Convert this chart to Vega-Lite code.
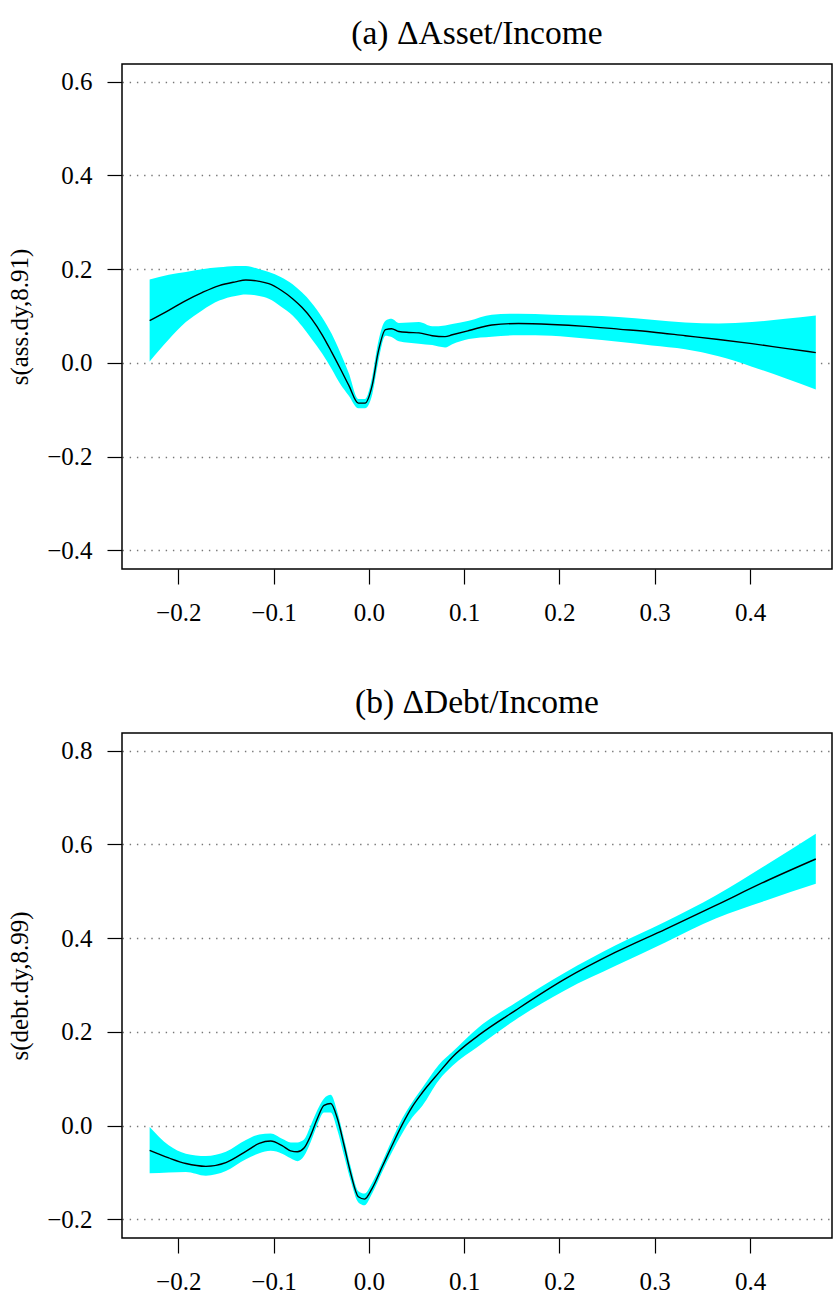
{
  "$schema": "https://vega.github.io/schema/vega-lite/v6.json",
  "background": "white",
  "padding": {"left": 6, "top": 15, "right": 0, "bottom": 0},
  "spacing": 58,
  "datasets": {
    "a": [
      {"x": -0.230, "fit": 0.090, "lo": 0.003, "hi": 0.178},
      {"x": -0.210, "fit": 0.112, "lo": 0.050, "hi": 0.188},
      {"x": -0.192, "fit": 0.133, "lo": 0.087, "hi": 0.194},
      {"x": -0.175, "fit": 0.150, "lo": 0.112, "hi": 0.200},
      {"x": -0.157, "fit": 0.165, "lo": 0.133, "hi": 0.204},
      {"x": -0.140, "fit": 0.173, "lo": 0.143, "hi": 0.207},
      {"x": -0.129, "fit": 0.177, "lo": 0.146, "hi": 0.207},
      {"x": -0.115, "fit": 0.174, "lo": 0.143, "hi": 0.200},
      {"x": -0.105, "fit": 0.169, "lo": 0.137, "hi": 0.194},
      {"x": -0.092, "fit": 0.155, "lo": 0.120, "hi": 0.183},
      {"x": -0.080, "fit": 0.137, "lo": 0.101, "hi": 0.168},
      {"x": -0.070, "fit": 0.118, "lo": 0.078, "hi": 0.150},
      {"x": -0.060, "fit": 0.094, "lo": 0.051, "hi": 0.128},
      {"x": -0.049, "fit": 0.060, "lo": 0.020, "hi": 0.097},
      {"x": -0.039, "fit": 0.023, "lo": -0.013, "hi": 0.062},
      {"x": -0.030, "fit": -0.012, "lo": -0.045, "hi": 0.022},
      {"x": -0.021, "fit": -0.048, "lo": -0.070, "hi": -0.022},
      {"x": -0.011, "fit": -0.086, "lo": -0.097, "hi": -0.077},
      {"x": -0.004, "fit": -0.086, "lo": -0.097, "hi": -0.077},
      {"x": 0.0035, "fit": -0.048, "lo": -0.068, "hi": -0.030},
      {"x": 0.0098, "fit": 0.023, "lo": 0.001, "hi": 0.044},
      {"x": 0.0175, "fit": 0.071, "lo": 0.058, "hi": 0.090},
      {"x": 0.0238, "fit": 0.073, "lo": 0.055, "hi": 0.094},
      {"x": 0.0315, "fit": 0.067, "lo": 0.046, "hi": 0.085},
      {"x": 0.042, "fit": 0.065, "lo": 0.043, "hi": 0.086},
      {"x": 0.0525, "fit": 0.064, "lo": 0.041, "hi": 0.087},
      {"x": 0.0665, "fit": 0.058, "lo": 0.038, "hi": 0.078},
      {"x": 0.080, "fit": 0.056, "lo": 0.033, "hi": 0.080},
      {"x": 0.0875, "fit": 0.060, "lo": 0.040, "hi": 0.083},
      {"x": 0.105, "fit": 0.069, "lo": 0.051, "hi": 0.090},
      {"x": 0.129, "fit": 0.081, "lo": 0.056, "hi": 0.103},
      {"x": 0.157, "fit": 0.084, "lo": 0.059, "hi": 0.105},
      {"x": 0.192, "fit": 0.082, "lo": 0.058, "hi": 0.103},
      {"x": 0.227, "fit": 0.078, "lo": 0.052, "hi": 0.101},
      {"x": 0.262, "fit": 0.072, "lo": 0.045, "hi": 0.098},
      {"x": 0.297, "fit": 0.066, "lo": 0.037, "hi": 0.092},
      {"x": 0.332, "fit": 0.058, "lo": 0.029, "hi": 0.086},
      {"x": 0.367, "fit": 0.050, "lo": 0.014, "hi": 0.084},
      {"x": 0.402, "fit": 0.041, "lo": -0.008, "hi": 0.087},
      {"x": 0.437, "fit": 0.031, "lo": -0.033, "hi": 0.094},
      {"x": 0.469, "fit": 0.022, "lo": -0.057, "hi": 0.101}
    ],
    "b": [
      {"x": -0.230, "fit": -0.053, "lo": -0.102, "hi": -0.003},
      {"x": -0.210, "fit": -0.069, "lo": -0.100, "hi": -0.042},
      {"x": -0.192, "fit": -0.081, "lo": -0.099, "hi": -0.060},
      {"x": -0.171, "fit": -0.087, "lo": -0.107, "hi": -0.065},
      {"x": -0.150, "fit": -0.079, "lo": -0.097, "hi": -0.056},
      {"x": -0.129, "fit": -0.055, "lo": -0.072, "hi": -0.031},
      {"x": -0.115, "fit": -0.038, "lo": -0.059, "hi": -0.019},
      {"x": -0.103, "fit": -0.033, "lo": -0.054, "hi": -0.017},
      {"x": -0.091, "fit": -0.043, "lo": -0.060, "hi": -0.028},
      {"x": -0.082, "fit": -0.054, "lo": -0.070, "hi": -0.036},
      {"x": -0.075, "fit": -0.056, "lo": -0.076, "hi": -0.036},
      {"x": -0.068, "fit": -0.048, "lo": -0.065, "hi": -0.030},
      {"x": -0.061, "fit": -0.021, "lo": -0.035, "hi": 0.000},
      {"x": -0.054, "fit": 0.015, "lo": 0.002, "hi": 0.033},
      {"x": -0.047, "fit": 0.043, "lo": 0.028, "hi": 0.058},
      {"x": -0.040, "fit": 0.047, "lo": 0.028, "hi": 0.066},
      {"x": -0.033, "fit": 0.015, "lo": -0.010, "hi": 0.029},
      {"x": -0.026, "fit": -0.042, "lo": -0.064, "hi": -0.028},
      {"x": -0.019, "fit": -0.102, "lo": -0.118, "hi": -0.088},
      {"x": -0.011, "fit": -0.152, "lo": -0.164, "hi": -0.140},
      {"x": -0.0045, "fit": -0.157, "lo": -0.170, "hi": -0.145},
      {"x": 0.0035, "fit": -0.134, "lo": -0.145, "hi": -0.122},
      {"x": 0.014, "fit": -0.088, "lo": -0.099, "hi": -0.078},
      {"x": 0.0245, "fit": -0.042, "lo": -0.056, "hi": -0.030},
      {"x": 0.035, "fit": 0.002, "lo": -0.017, "hi": 0.015},
      {"x": 0.0455, "fit": 0.040, "lo": 0.017, "hi": 0.050},
      {"x": 0.056, "fit": 0.070, "lo": 0.042, "hi": 0.080},
      {"x": 0.0735, "fit": 0.113, "lo": 0.097, "hi": 0.130},
      {"x": 0.0875, "fit": 0.146, "lo": 0.127, "hi": 0.157},
      {"x": 0.1154, "fit": 0.193, "lo": 0.170, "hi": 0.210},
      {"x": 0.154, "fit": 0.246, "lo": 0.226, "hi": 0.262},
      {"x": 0.206, "fit": 0.313, "lo": 0.289, "hi": 0.327},
      {"x": 0.259, "fit": 0.370, "lo": 0.341, "hi": 0.385},
      {"x": 0.311, "fit": 0.419, "lo": 0.391, "hi": 0.435},
      {"x": 0.364, "fit": 0.470, "lo": 0.442, "hi": 0.491},
      {"x": 0.416, "fit": 0.521, "lo": 0.480, "hi": 0.555},
      {"x": 0.469, "fit": 0.569, "lo": 0.516, "hi": 0.623}
    ]
  },
  "vconcat": [
    {
      "title": {"text": "(a) ΔAsset/Income", "frame": "group", "offset": 13},
      "width": 710,
      "height": 505,
      "data": {"name": "a"},
      "layer": [
        {
          "mark": {"type": "area", "color": "#00FFFF", "opacity": 1, "interpolate": "monotone"},
          "encoding": {
            "x": {"field": "x", "type": "quantitative",
                  "scale": {"domain": [-0.259, 0.486], "nice": false, "zero": false},
                  "axis": {"values": [-0.2, -0.1, 0, 0.1, 0.2, 0.3, 0.4], "format": ".1f", "grid": false, "title": null}},
            "y": {"field": "lo", "type": "quantitative",
                  "scale": {"domain": [-0.44, 0.638], "nice": false, "zero": false},
                  "axis": {"values": [-0.4, -0.2, 0, 0.2, 0.4, 0.6], "format": ".1f", "title": "s(ass.dy,8.91)"}},
            "y2": {"field": "hi"}
          }
        },
        {
          "mark": {"type": "line", "color": "black", "strokeWidth": 1.4, "interpolate": "monotone"},
          "encoding": {
            "x": {"field": "x", "type": "quantitative"},
            "y": {"field": "fit", "type": "quantitative"}
          }
        }
      ]
    },
    {
      "title": {"text": "(b) ΔDebt/Income", "frame": "group", "offset": 13},
      "width": 710,
      "height": 505,
      "data": {"name": "b"},
      "layer": [
        {
          "mark": {"type": "area", "color": "#00FFFF", "opacity": 1, "interpolate": "monotone"},
          "encoding": {
            "x": {"field": "x", "type": "quantitative",
                  "scale": {"domain": [-0.259, 0.486], "nice": false, "zero": false},
                  "axis": {"values": [-0.2, -0.1, 0, 0.1, 0.2, 0.3, 0.4], "format": ".1f", "grid": false, "title": null}},
            "y": {"field": "lo", "type": "quantitative",
                  "scale": {"domain": [-0.24, 0.838], "nice": false, "zero": false},
                  "axis": {"values": [-0.2, 0, 0.2, 0.4, 0.6, 0.8], "format": ".1f", "title": "s(debt.dy,8.99)"}},
            "y2": {"field": "hi"}
          }
        },
        {
          "mark": {"type": "line", "color": "black", "strokeWidth": 1.4, "interpolate": "monotone"},
          "encoding": {
            "x": {"field": "x", "type": "quantitative"},
            "y": {"field": "fit", "type": "quantitative"}
          }
        }
      ]
    }
  ],
  "config": {
    "font": "Liberation Serif",
    "view": {"stroke": "black", "strokeWidth": 1.5},
    "title": {"font": "Liberation Serif", "fontSize": 33.5, "fontWeight": "normal", "color": "black", "anchor": "middle"},
    "axis": {
      "domain": false,
      "ticks": true,
      "tickSize": 15,
      "tickColor": "black",
      "tickWidth": 1.2,
      "labelFont": "Liberation Serif",
      "labelFontSize": 25,
      "labelColor": "black",
      "titleFont": "Liberation Serif",
      "titleFontSize": 25,
      "titleFontWeight": "normal",
      "titleColor": "black",
      "zindex": 1
    },
    "axisY": {
      "grid": true,
      "gridColor": "#777777",
      "gridWidth": 1.4,
      "gridDash": [1.4, 5.8],
      "labelPadding": 15,
      "titlePadding": 14
    },
    "axisX": {
      "labelPadding": 16
    }
  }
}
